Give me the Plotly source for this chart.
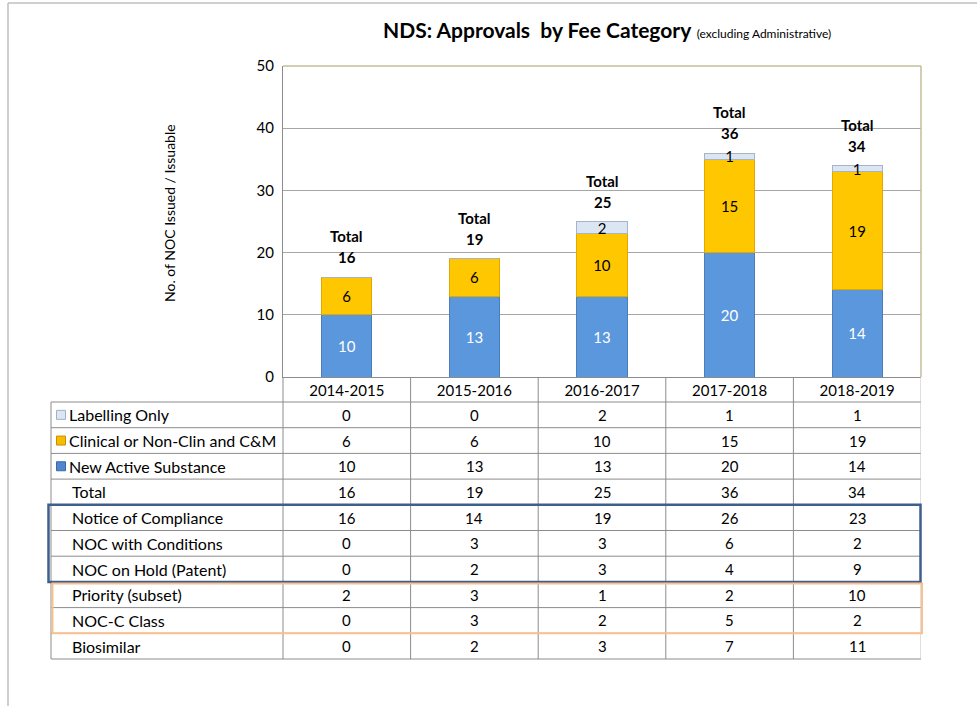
import plotly.graph_objects as go

W, H = 977, 706
FONT = "Lato"

categories = ["2014-2015", "2015-2016", "2016-2017", "2017-2018", "2018-2019"]
labelling_only = [0, 0, 2, 1, 1]
clinical = [6, 6, 10, 15, 19]
new_active = [10, 13, 13, 20, 14]
totals = [16, 19, 25, 36, 34]
notice_compliance = [16, 14, 19, 26, 23]
noc_conditions = [0, 3, 3, 6, 2]
noc_hold = [0, 2, 3, 4, 9]
priority = [2, 3, 1, 2, 10]
noc_c_class = [0, 3, 2, 5, 2]
biosimilar = [0, 2, 3, 7, 11]

row_labels = ["Labelling Only", "Clinical or Non-Clin and C&M", "New Active Substance", "Total",
              "Notice of Compliance", "NOC with Conditions", "NOC on Hold (Patent)",
              "Priority (subset)", "NOC-C Class", "Biosimilar"]
row_values = [labelling_only, clinical, new_active, totals, notice_compliance,
              noc_conditions, noc_hold, priority, noc_c_class, biosimilar]
y_ticks = [0, 10, 20, 30, 40, 50]


def px(x):
    return x / W


def py(y):
    return 1 - y / H


def lbl(vals):
    return [str(v) if v else "" for v in vals]


BLUE = "#5B97DC"
YELLOW = "#FFC700"
LIGHT = "#DCE6F2"

fig = go.Figure()
fig.add_bar(x=categories, y=new_active, name="New Active Substance",
            marker=dict(color=BLUE, line=dict(color="#4A7DBA", width=1)),
            text=lbl(new_active), textposition="inside", insidetextanchor="middle",
            textangle=0, constraintext="none",
            textfont=dict(family=FONT, size=15, color="white"))
fig.add_bar(x=categories, y=clinical, name="Clinical or Non-Clin and C&M",
            marker=dict(color=YELLOW, line=dict(color="#E3A800", width=1)),
            text=lbl(clinical), textposition="inside", insidetextanchor="middle",
            textangle=0, constraintext="none",
            textfont=dict(family=FONT, size=15, color="black"))
fig.add_bar(x=categories, y=labelling_only, name="Labelling Only",
            marker=dict(color=LIGHT, line=dict(color="#A6B4C8", width=1)),
            text=lbl(labelling_only), textposition="inside", insidetextanchor="middle",
            textangle=0, constraintext="none",
            textfont=dict(family=FONT, size=15, color="black"))

shapes = []
annotations = []
GRID = "#8C8C8C"
TAN = "#C4BD97"

# outer frame
shapes.append(dict(type="line", xref="paper", yref="paper", x0=px(8), x1=px(8), y0=py(3), y1=py(706),
                   line=dict(color="#BFBFBF", width=1.5)))
shapes.append(dict(type="line", xref="paper", yref="paper", x0=px(8), x1=px(977), y0=py(3), y1=py(3),
                   line=dict(color="#BFBFBF", width=1.5)))

# plot area border (top & right)
shapes.append(dict(type="line", xref="paper", yref="paper", x0=px(283), x1=px(921), y0=py(66), y1=py(66),
                   line=dict(color=TAN, width=1.5)))
shapes.append(dict(type="line", xref="paper", yref="paper", x0=px(921), x1=px(921), y0=py(66), y1=py(377),
                   line=dict(color=TAN, width=1.5)))

# table geometry
row_top = 402
row_h = 25.7
n_rows = len(row_labels)
table_bottom = row_top + row_h * n_rows

for k in range(n_rows + 1):
    yy = row_top + row_h * k
    shapes.append(dict(type="line", xref="paper", yref="paper", x0=px(51), x1=px(921), y0=py(yy), y1=py(yy),
                       line=dict(color=GRID, width=1)))
for i in range(len(categories)):
    shapes.append(dict(type="line", xref="x", yref="paper", x0=i + 0.5, x1=i + 0.5, y0=py(377), y1=py(table_bottom),
                       line=dict(color=GRID if i < len(categories) - 1 else "#BFBFBF", width=1)))
shapes.append(dict(type="line", xref="paper", yref="paper", x0=px(283), x1=px(283), y0=py(377), y1=py(table_bottom),
                   line=dict(color=GRID, width=1)))
shapes.append(dict(type="line", xref="paper", yref="paper", x0=px(51), x1=px(51), y0=py(row_top), y1=py(table_bottom),
                   line=dict(color=GRID, width=1)))

# highlight boxes
shapes.append(dict(type="rect", xref="paper", yref="paper", x0=px(48.5), x1=px(920.5),
                   y0=py(row_top + row_h * 4), y1=py(row_top + row_h * 7),
                   line=dict(color="#3F5F8A", width=2.5)))
shapes.append(dict(type="rect", xref="paper", yref="paper", x0=px(52.5), x1=px(922),
                   y0=py(row_top + row_h * 7 + 1.5), y1=py(row_top + row_h * 9),
                   line=dict(color="#FAC08F", width=2)))

# legend keys
key_colors = [(LIGHT, "#9FB0C8"), ("#F5BC00", "#C89000"), ("#4F86CF", "#3A69A8")]
for k, (fc, lc) in enumerate(key_colors):
    cy = row_top + row_h * k + row_h / 2
    shapes.append(dict(type="rect", xref="paper", yref="paper", x0=px(56.5), x1=px(65.5),
                       y0=py(cy - 4.5), y1=py(cy + 4.5), fillcolor=fc, line=dict(color=lc, width=1)))

# table texts
for k, (name, vals) in enumerate(zip(row_labels, row_values)):
    cy = row_top + row_h * k + row_h / 2
    annotations.append(dict(x=px(67 if k < 3 else 70), y=py(cy), xref="paper", yref="paper", text=name,
                            showarrow=False, xanchor="left", yanchor="middle",
                            font=dict(family=FONT, size=16, color="#000")))
    for i, v in enumerate(vals):
        annotations.append(dict(x=categories[i], y=py(cy), xref="x", yref="paper", text=str(v),
                                showarrow=False, xanchor="center", yanchor="middle",
                                font=dict(family=FONT, size=15, color="#000")))

# total labels above bars
for i, t in enumerate(totals):
    annotations.append(dict(x=categories[i], y=t, xref="x", yref="y", text="<b>Total</b>",
                            showarrow=False, xanchor="center", yanchor="middle", yshift=41,
                            font=dict(family=FONT, size=15, color="#000")))
    annotations.append(dict(x=categories[i], y=t, xref="x", yref="y", text="<b>%d</b>" % t,
                            showarrow=False, xanchor="center", yanchor="middle", yshift=20,
                            font=dict(family=FONT, size=15, color="#000")))

# title
annotations.append(dict(x=px(607), y=py(30), xref="paper", yref="paper",
                        text="<b>NDS: Approvals&nbsp; by Fee Category</b> "
                             "<span style='font-size:12px'>(excluding Administrative)</span>",
                        showarrow=False, xanchor="center", yanchor="middle",
                        font=dict(family=FONT, size=21, color="#000")))
# y-axis title
annotations.append(dict(x=px(169), y=py(213), xref="paper", yref="paper",
                        text="No. of NOC Issued / Issuable", textangle=-90,
                        showarrow=False, xanchor="center", yanchor="middle",
                        font=dict(family=FONT, size=14, color="#000")))

fig.update_layout(
    width=W, height=H, autosize=False,
    margin=dict(l=0, r=0, t=0, b=0, pad=0, autoexpand=False),
    paper_bgcolor="white", plot_bgcolor="white",
    barmode="stack", bargap=0.608,
    showlegend=False,
    shapes=shapes, annotations=annotations,
    font=dict(family=FONT, size=15, color="#000"),
    xaxis=dict(domain=[px(283), px(921)], range=[-0.5, 4.5], type="category", automargin=False,
               showgrid=False, showline=True, linecolor=GRID, linewidth=1,
               ticks="", ticklen=0,
               tickfont=dict(family=FONT, size=15, color="#000")),
    yaxis=dict(domain=[py(377), py(66)], range=[0, 50], tickvals=y_ticks, automargin=False,
               showgrid=True, gridcolor="#A6A6A6", gridwidth=1,
               showline=True, linecolor=GRID, linewidth=1, zeroline=False,
               ticks="outside", ticklen=5, tickcolor="rgba(0,0,0,0)",
               tickfont=dict(family=FONT, size=15, color="#000")),
)

fig.write_html("out.html", config={"displayModeBar": False, "responsive": False},
               post_script="document.body.style.margin='0';document.body.style.overflow='hidden';")
